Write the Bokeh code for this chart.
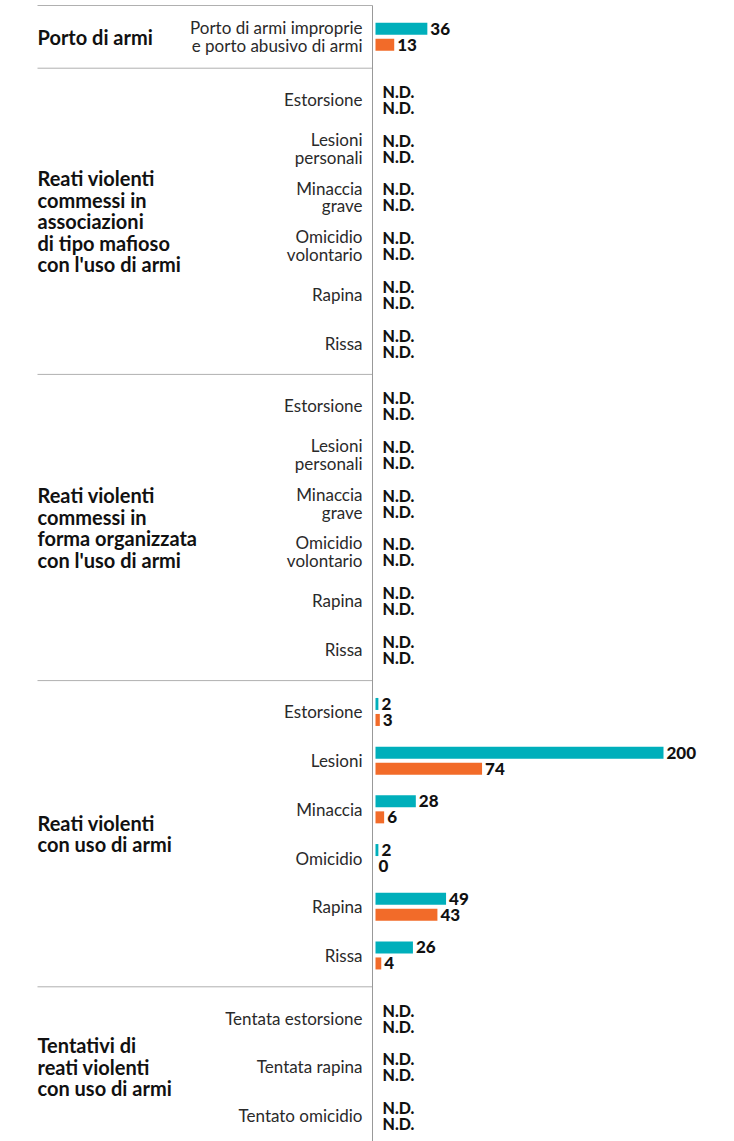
from bokeh.plotting import figure
from bokeh.models import Range1d
from bokeh.core.properties import value
from bokeh.embed import file_html
from bokeh.resources import INLINE

# ---------------- data ----------------
group_labels = [
    "Porto di armi",
    "Reati violenti\ncommessi in\nassociazioni\ndi tipo mafioso\ncon l'uso di armi",
    "Reati violenti\ncommessi in\nforma organizzata\ncon l'uso di armi",
    "Reati violenti\ncon uso di armi",
    "Tentativi di\nreati violenti\ncon uso di armi",
]
sub_porto = ["Porto di armi improprie\ne porto abusivo di armi"]
sub_mafioso = ["Estorsione", "Lesioni\npersonali", "Minaccia\ngrave", "Omicidio\nvolontario", "Rapina", "Rissa"]
sub_organizzata = ["Estorsione", "Lesioni\npersonali", "Minaccia\ngrave", "Omicidio\nvolontario", "Rapina", "Rissa"]
sub_reati = ["Estorsione", "Lesioni", "Minaccia", "Omicidio", "Rapina", "Rissa"]
sub_tentativi = ["Tentata estorsione", "Tentata rapina", "Tentato omicidio"]
sub_labels = [sub_porto, sub_mafioso, sub_organizzata, sub_reati, sub_tentativi]

# None = N.D.
teal_values = [
    [36],
    [None, None, None, None, None, None],
    [None, None, None, None, None, None],
    [2, 200, 28, 2, 49, 26],
    [None, None, None],
]
orange_values = [
    [13],
    [None, None, None, None, None, None],
    [None, None, None, None, None, None],
    [3, 74, 6, 0, 43, 4],
    [None, None, None],
]

TEAL = "#00AFBB"
ORANGE = "#F26B29"
FONT = "Lato"
HEAVY = "Lato Black"

# ---------------- layout (screen pixels) ----------------
W, H = 734, 1141
SCREEN_LEFT, SCREEN_TOP = 0, 0
X0 = 375.0        # screen x of value zero
PX = 1.44         # pixels per unit
ROW = 48.7
PAD = 7.0
TOP = 5.0
BAR_H = 12
BAR_OFF = 8


def sx(screen_x):
    return (screen_x - X0) / PX


x_range = Range1d(sx(SCREEN_LEFT), sx(SCREEN_LEFT + W))
y_range = Range1d(SCREEN_TOP + H, SCREEN_TOP)  # y grows downward, in screen px

p = figure(width=W, height=H, x_range=x_range, y_range=y_range,
           toolbar_location=None, output_backend="svg",
           x_axis_location=None, y_axis_location=None, min_border=0)
p.grid.visible = False
p.outline_line_color = None
p.background_fill_color = "white"
p.border_fill_color = "white"

group_x, group_y = [], []
sub_x, sub_y, sub_t = [], [], []
bar_y, bar_v, bar_c = [], [], []
num_x, num_y, num_t = [], [], []
nd_x, nd_y, nd_t = [], [], []
sep_y = []

y = TOP
for gi, g in enumerate(group_labels):
    subs = sub_labels[gi]
    top = y
    bottom = top + 2 * PAD + len(subs) * ROW
    sep_y.append(top)
    group_x.append(sx(37))
    group_y.append((top + bottom) / 2)
    for i, s in enumerate(subs):
        c = top + PAD + ROW * (i + 0.5)
        sub_x.append(sx(362))
        sub_y.append(c)
        sub_t.append(s)
        for v, col, dy in ((teal_values[gi][i], TEAL, -BAR_OFF),
                           (orange_values[gi][i], ORANGE, BAR_OFF)):
            if v is None:
                nd_x.append(0)
                nd_y.append(c + dy)
                nd_t.append("N.D.")
            else:
                bar_y.append(c + dy)
                bar_v.append(v)
                bar_c.append(col)
                num_x.append(v)
                num_y.append(c + dy)
                num_t.append(str(v))
    y = bottom

# separators
p.segment(x0=[sx(37)] * len(sep_y), x1=[sx(372)] * len(sep_y), y0=sep_y, y1=sep_y,
          line_color="#b0b0b0", line_width=1)
# vertical axis line
p.segment(x0=[sx(372)], x1=[sx(372)], y0=[TOP], y1=[SCREEN_TOP + H],
          line_color="#999999", line_width=1)

# bars
p.hbar(y=bar_y, left=0, right=bar_v, height=BAR_H, color=bar_c, line_color=None)

# value labels
p.text(x=num_x, y=num_y, text=num_t, x_offset=3,
       text_font=value(HEAVY), text_font_size="17px",
       text_align="left", text_baseline="middle", text_color="#111111")
p.text(x=nd_x, y=nd_y, text=nd_t, x_offset=7,
       text_font=value(HEAVY), text_font_size="16px",
       text_align="left", text_baseline="middle", text_color="#111111")

# subcategory labels
p.text(x=sub_x, y=sub_y, text=sub_t,
       text_font=value(FONT), text_font_size="17px", text_line_height=0.85,
       text_align="right", text_baseline="middle", text_color="#2a2a2a")

# group labels
p.text(x=group_x, y=group_y, text=group_labels,
       text_font=value(FONT), text_font_style="bold", text_font_size="20px",
       text_line_height=0.9,
       text_align="left", text_baseline="middle", text_color="#111111")

open("out.html", "w").write(file_html(p, INLINE))
